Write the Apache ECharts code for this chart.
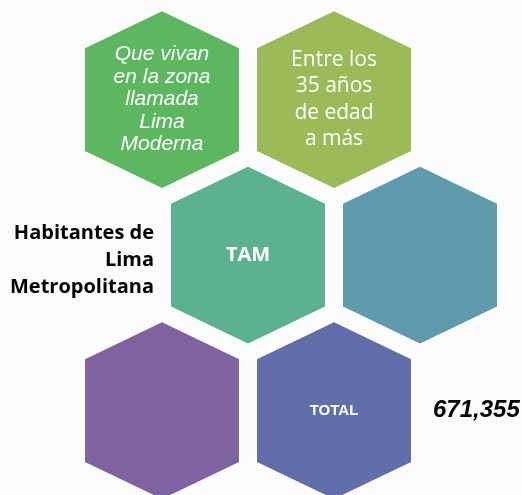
<!DOCTYPE html>
<html>
<head>
<meta charset="utf-8">
<script src="https://cdn.jsdelivr.net/npm/echarts@6/dist/echarts.min.js"></script>
<style>
  html, body { margin: 0; padding: 0; background: #fcfcfc; }
  #main { width: 522px; height: 495px; }
</style>
</head>
<body>
<div id="main"></div>
<script>
// honeycomb cells: column in half steps, row index
const hexCols = [0, 2, 1, 3, 0, 2];
const hexRows = [0, 0, 1, 1, 2, 2];
const hexLabels = [
    'Que vivan\nen la zona\nllamada\nLima\nModerna',
    'Entre los\n35 años\nde edad\na más',
    'TAM',
    '',
    '',
    'TOTAL'
];
const sideLabels = ['', '', 'Habitantes de\nLima\nMetropolitana', '', '', '671,355'];

const colors = ['#5db760', '#9bbb59', '#5cb18f', '#5f9bad', '#7f63a0', '#616ea9'];

// per-cell text look
const innerFont = [
    { fontStyle: 'italic', fontWeight: 'normal', fontSize: 21, fontFamily: 'Liberation Sans', lineHeight: 22.5 },
    { fontStyle: 'normal', fontWeight: 'normal', fontSize: 21, fontFamily: 'Open Sans', lineHeight: 26.5 },
    { fontStyle: 'normal', fontWeight: 'bold', fontSize: 20, fontFamily: 'Open Sans', lineHeight: 24 },
    {},
    {},
    { fontStyle: 'normal', fontWeight: 'bold', fontSize: 15, fontFamily: 'Liberation Sans', lineHeight: 18 }
];
const sideFont = {
    left: { fontStyle: 'normal', fontWeight: 'bold', fontSize: 20, fontFamily: 'Open Sans', lineHeight: 27 },
    right: { fontStyle: 'italic', fontWeight: 'bold', fontSize: 24, fontFamily: 'Liberation Sans', lineHeight: 26 }
};

const data = hexCols.map((c, i) => [c, hexRows[i]]);

function renderHex(params, api) {
    const i = params.dataIndex;
    const p = api.coord([api.value(0), api.value(1)]);
    const cx = p[0], cy = p[1];
    const hw = 78, hh = 89.5, side = 52;
    const children = [{
        type: 'polygon',
        shape: {
            points: [
                [cx, cy - hh], [cx + hw, cy - side], [cx + hw, cy + side],
                [cx, cy + hh], [cx - hw, cy + side], [cx - hw, cy - side]
            ]
        },
        style: { fill: colors[i], stroke: '#ffffff', lineWidth: 2 }
    }];
    if (hexLabels[i]) {
        children.push({
            type: 'text',
            style: Object.assign({
                text: hexLabels[i], x: cx, y: cy,
                fill: '#ffffff', align: 'center', verticalAlign: 'middle'
            }, innerFont[i])
        });
    }
    if (sideLabels[i]) {
        const left = hexCols[i] < 2;
        children.push({
            type: 'text',
            style: Object.assign({
                text: sideLabels[i],
                x: left ? cx - hw - 16 : cx + hw + 21,
                y: left ? cy + 5 : cy,
                fill: '#000000',
                align: left ? 'right' : 'left',
                verticalAlign: 'middle'
            }, left ? sideFont.left : sideFont.right)
        });
    }
    return { type: 'group', children };
}

const chart = echarts.init(document.getElementById('main'));
chart.setOption({
    backgroundColor: '#fcfcfc',
    animation: false,
    grid: { left: 0, right: 0, top: 0, bottom: 0 },
    xAxis: { type: 'value', min: -1.884, max: 4.186, show: false },
    yAxis: { type: 'value', min: -0.64, max: 2.543, inverse: true, show: false },
    series: [{
        type: 'custom',
        silent: true,
        renderItem: renderHex,
        data
    }]
});
</script>
</body>
</html>
